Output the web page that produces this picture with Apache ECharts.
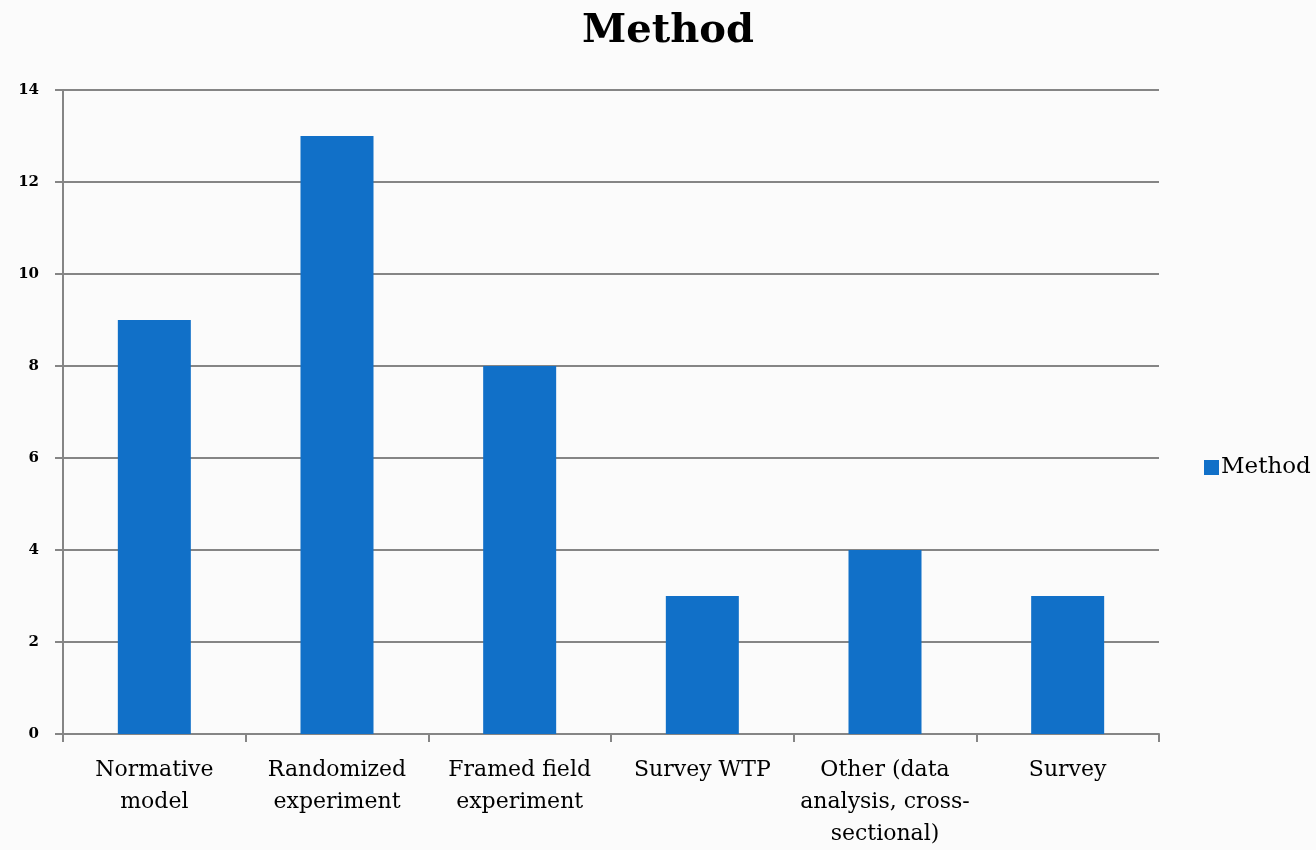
<!DOCTYPE html>
<html>
<head>
<meta charset="utf-8">
<script src="https://cdn.jsdelivr.net/npm/echarts@6/dist/echarts.min.js"></script>
<style>
  html, body { margin: 0; padding: 0; background: #fbfbfb; overflow: hidden; }
  #chart { width: 1316px; height: 850px; }
</style>
</head>
<body>
<div id="chart"></div>
<script>
const categories = [
  'Normative\nmodel',
  'Randomized\nexperiment',
  'Framed field\nexperiment',
  'Survey WTP',
  'Other (data\nanalysis, cross-\nsectional)',
  'Survey'
];
const methodCounts = [9, 13, 8, 3, 4, 3];
const seriesName = 'Method';
const chartTitle = 'Method';

const serif = '"DejaVu Serif", "Liberation Serif", serif';
const gridColor = '#858585';

const chart = echarts.init(document.getElementById('chart'), null, { renderer: 'canvas' });
chart.setOption({
  backgroundColor: '#fbfbfb',
  animation: false,
  title: {
    text: chartTitle,
    left: 577,
    top: 7,
    textStyle: { fontFamily: serif, fontSize: 40, fontWeight: 'bold', color: '#000' }
  },
  legend: {
    data: [seriesName],
    orient: 'vertical',
    left: 1199,
    top: 451,
    icon: 'rect',
    itemWidth: 15,
    itemHeight: 15,
    itemGap: 6,
    textStyle: { fontFamily: serif, fontSize: 23, color: '#000', padding: [0, 0, 0, -3] }
  },
  grid: { left: 63, width: 1096, top: 90, height: 647, containLabel: false },
  xAxis: {
    type: 'category',
    data: categories,
    axisLine: { lineStyle: { color: gridColor, width: 2 } },
    axisTick: { show: true, length: 8, alignWithLabel: false, lineStyle: { color: gridColor, width: 2 } },
    axisLabel: {
      fontFamily: serif,
      fontSize: 22,
      color: '#000',
      lineHeight: 32,
      margin: 20,
      interval: 0
    }
  },
  yAxis: {
    type: 'value',
    min: 0,
    max: 14,
    interval: 2,
    axisLine: { show: true, lineStyle: { color: gridColor, width: 2 } },
    axisTick: { show: true, length: 8, lineStyle: { color: gridColor, width: 2 } },
    splitLine: { show: true, lineStyle: { color: gridColor, width: 2 } },
    axisLabel: {
      fontFamily: serif,
      fontSize: 15,
      fontWeight: 'bold',
      color: '#000',
      margin: 24
    }
  },
  series: [{
    name: seriesName,
    type: 'bar',
    data: methodCounts,
    barWidth: 73,
    itemStyle: { color: '#1170C8' }
  }]
});
</script>
</body>
</html>
